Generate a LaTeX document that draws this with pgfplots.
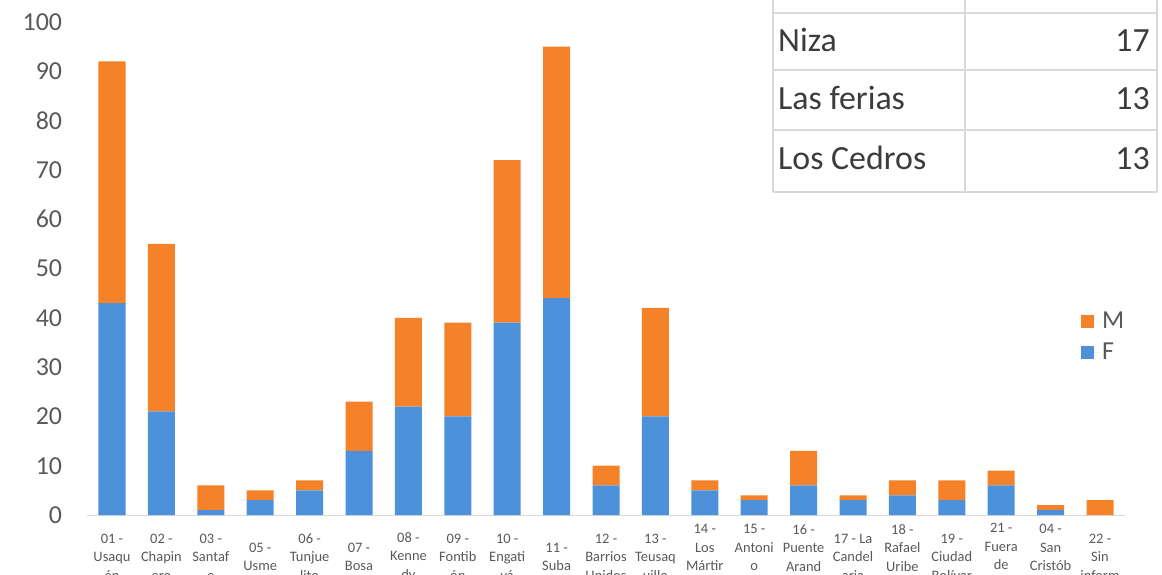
\documentclass[border=0pt]{standalone}
\usepackage{pgfplots}
\pgfplotsset{compat=1.18}
\usepackage{pgfplotstable}
\usepackage{fontspec}
\setmainfont{Carlito}
\definecolor{barF}{RGB}{76,145,218}
\definecolor{barM}{RGB}{245,130,40}
\definecolor{ticktext}{RGB}{89,89,89}
\definecolor{gridc}{RGB}{217,217,217}
\definecolor{tabtext}{RGB}{60,60,60}
\pgfplotstableread{
idx F M
0 43 49
1 21 34
2 1 5
3 3 2
4 5 2
5 13 10
6 22 18
7 20 19
8 39 33
9 44 51
10 6 4
11 20 22
12 5 2
13 3 1
14 6 7
15 3 1
16 4 3
17 3 4
18 6 3
19 1 1
20 0 3
}\datatable
\begin{document}
\begin{tikzpicture}
\begin{axis}[
  scale only axis,
  width=1037.4bp, height=493bp,
  ybar stacked, bar width=27bp,
  xmin=-0.5, xmax=20.5, ymin=0, ymax=100,
  axis x line*=bottom, axis y line*=left,
  y axis line style={draw=none},
  x axis line style={draw=gridc, line width=1bp},
  ytick={0,10,...,100},
  ytick style={draw=none},
  xtick style={draw=none},
  /pgf/number format/assume math mode=true,
  yticklabel style={font=\fontsize{26}{28}\selectfont, text=ticktext, anchor=east, inner sep=0pt, xshift=-25bp},
  xtick={0,...,20},
  xticklabels={
    {01 -\\Usaqu\\én},{02 -\\Chapin\\ero},{03 -\\Santaf\\e},{05 -\\Usme},{06 -\\Tunjue\\lito},
    {07 -\\Bosa},{08 -\\Kenne\\dy},{09 -\\Fontib\\ón},{10 -\\Engati\\vá},{11 -\\Suba},
    {12 -\\Barrios\\Unidos},{13 -\\Teusaq\\uillo},{14 -\\Los\\Mártir\\es},{15 -\\Antoni\\o\\Nariño},
    {16 -\\Puente\\Arand\\a},{17 - La\\Candel\\aria},{18 -\\Rafael\\Uribe\\Uribe},{19 -\\Ciudad\\Bolívar},
    {21 -\\Fuera\\de\\Bogotá},{04 -\\San\\Cristób\\al},{22 -\\Sin\\inform}},
  xticklabel style={font=\fontsize{14.5}{18.5}\selectfont, text=ticktext, align=center, anchor=center, yshift=-42bp, inner sep=0pt},
  extra x ticks={-0.5,0.5,...,20.5},
  extra x tick labels={},
  extra x tick style={major tick length=70bp, tick align=outside, tick style={draw=gridc, line width=1bp}},
  legend style={at={(0.955,0.42)}, anchor=north west, draw=none, fill=none,
    font=\fontsize{26}{28}\selectfont, text=ticktext, row sep=9bp},
  legend cell align=left,
  reverse legend,
  legend image code/.code={\fill[#1, draw=none] (0bp,-6.5bp) rectangle (13bp,6.5bp); \path (0bp,0bp) -- (19bp,0bp);},
]
\addplot+[fill=barF, draw=none] table[x=idx, y=F] {\datatable};
\addplot+[fill=barM, draw=none] table[x=idx, y=M] {\datatable};
\legend{F, M}
\coordinate (O) at (rel axis cs:0,0);
\end{axis}
\coordinate (TL) at ([shift={(-87.3bp,515bp)}]O);
\begin{scope}[shift={(TL)}, x=1bp, y=-1bp]
  \fill[white] (773,-10) rectangle (1157,192);
  \foreach \yy in {13,70,130,192} \draw[gridc, line width=2bp] (773,\yy) -- (1157,\yy);
  \foreach \xx in {773,965,1157} \draw[gridc, line width=2bp] (\xx,-10) -- (\xx,192);
  \begin{scope}[every node/.style={font=\fontsize{34}{38}\selectfont, text=tabtext, inner sep=0pt}]
    \node[anchor=base west] at (778,52) {Niza};
    \node[anchor=base east] at (1150,52) {17};
    \node[anchor=base west] at (778,110) {Las ferias};
    \node[anchor=base east] at (1150,110) {13};
    \node[anchor=base west] at (778,170) {Los Cedros};
    \node[anchor=base east] at (1150,170) {13};
  \end{scope}
  \pgfresetboundingbox
  \path[use as bounding box] (0,0) rectangle (1162,575);
\end{scope}
\end{tikzpicture}
\end{document}
